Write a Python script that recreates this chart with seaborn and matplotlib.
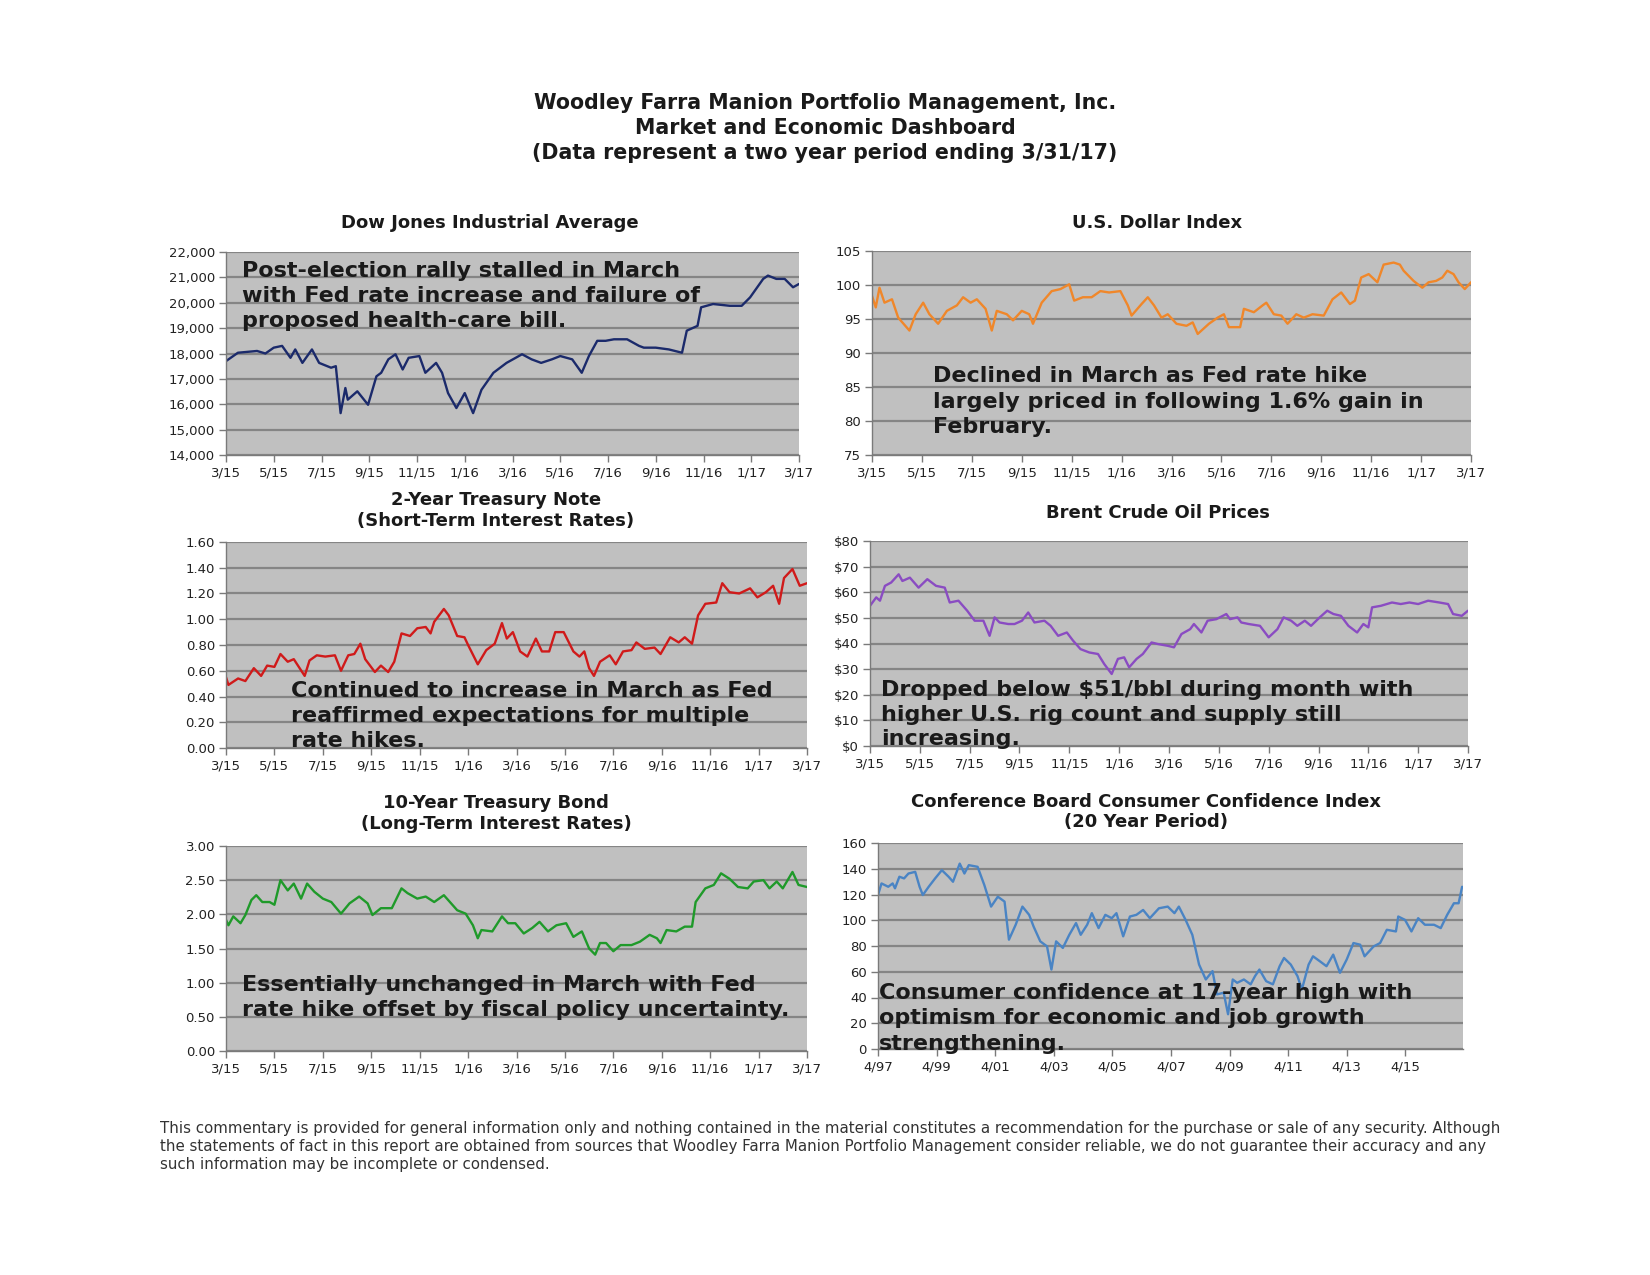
import matplotlib
matplotlib.use("Agg")
import matplotlib.pyplot as plt
import matplotlib.ticker as mticker
import numpy as np
import pandas as pd
import seaborn as sns

# ---------------- data ----------------
two_year_tick_labels = ["3/15", "5/15", "7/15", "9/15", "11/15", "1/16", "3/16",
                        "5/16", "7/16", "9/16", "11/16", "1/17", "3/17"]

# months after 3/31/15
dow_month = [0, 0.5, 1.3, 1.65, 2.0, 2.35, 2.7, 2.9, 3.2, 3.6, 3.9, 4.4, 4.6, 4.8, 5.0, 5.1,
             5.5, 5.95, 6.3, 6.5, 6.8, 7.1, 7.4, 7.65, 8.1, 8.35, 8.8, 9.05, 9.3, 9.65, 10.0,
             10.35, 10.7, 11.2, 11.75, 12.4, 12.8, 13.2, 13.65, 14.0, 14.5, 14.9, 15.2, 15.55,
             15.9, 16.25, 16.8, 17.3, 17.5, 18.0, 18.55, 19.1, 19.3, 19.75, 19.9, 20.4, 21.1,
             21.6, 21.95, 22.5, 22.7, 23.05, 23.4, 23.75, 24.0]
dow_value = [17700, 18030, 18100, 18000, 18230, 18300, 17830, 18160, 17630, 18160, 17630,
             17440, 17500, 15650, 16640, 16180, 16510, 15980, 17100, 17240, 17770, 17970,
             17370, 17830, 17900, 17240, 17630, 17240, 16440, 15850, 16440, 15650, 16570,
             17240, 17630, 17970, 17770, 17630, 17770, 17900, 17770, 17240, 17900, 18500,
             18500, 18560, 18560, 18300, 18230, 18230, 18160, 18030, 18900, 19090, 19820,
             19950, 19880, 19880, 20210, 20940, 21070, 20940, 20940, 20610, 20740]

usd_month = [0, 0.15, 0.3, 0.5, 0.8, 1.05, 1.5, 1.75, 2.05, 2.3,
             2.65, 3.0, 3.4, 3.65, 3.95, 4.2, 4.55, 4.8, 5.0, 5.4,
             5.65, 6.0, 6.3, 6.45, 6.8, 7.2, 7.55, 7.9, 8.1, 8.45,
             8.8, 9.15, 9.5, 9.95, 10.25, 10.4, 10.8, 11.05, 11.3, 11.6,
             11.85, 12.2, 12.6, 12.85, 13.05, 13.5, 13.85, 14.1, 14.3, 14.75,
             14.9, 15.3, 15.65, 15.8, 16.1, 16.4, 16.65, 17.0, 17.3, 17.65,
             18.1, 18.45, 18.8, 19.15, 19.35, 19.6, 19.9, 20.25, 20.5, 20.9,
             21.15, 21.3, 21.7, 22.05, 22.3, 22.6, 22.85, 23.05, 23.3, 23.5,
             23.75, 24.0]
usd_value = [98.4, 96.7, 99.6, 97.4, 97.9, 95.2, 93.3, 95.7, 97.4, 95.7,
             94.3, 96.2, 97.0, 98.2, 97.4, 97.9, 96.5, 93.3, 96.2, 95.7,
             94.8, 96.2, 95.7, 94.3, 97.4, 99.1, 99.4, 100.1, 97.7, 98.2,
             98.2, 99.1, 98.9, 99.1, 97.0, 95.5, 97.2, 98.2, 97.0, 95.2,
             95.7, 94.3, 94.0, 94.5, 92.8, 94.3, 95.2, 95.7, 93.8, 93.8,
             96.5, 96.0, 97.0, 97.4, 95.7, 95.5, 94.3, 95.7, 95.2, 95.7,
             95.5, 97.9, 98.9, 97.2, 97.7, 101.1, 101.6, 100.4, 103.0, 103.3,
             103.0, 102.1, 100.6, 99.6, 100.4, 100.6, 101.1, 102.1, 101.6, 100.4,
             99.4, 100.4]

t2_month = [0, 0.1, 0.5, 0.8, 1.15, 1.45, 1.7, 2.0, 2.25, 2.55,
            2.8, 3.25, 3.45, 3.75, 4.1, 4.5, 4.75, 5.05, 5.3, 5.55,
            5.75, 6.15, 6.4, 6.7, 6.95, 7.25, 7.6, 7.9, 8.25, 8.45,
            8.6, 9.0, 9.2, 9.55, 9.85, 10.0, 10.4, 10.75, 11.1, 11.4,
            11.6, 11.85, 12.15, 12.45, 12.8, 13.05, 13.35, 13.6, 13.95, 14.35,
            14.6, 14.8, 15.0, 15.2, 15.45, 15.85, 16.1, 16.4, 16.75, 16.95,
            17.3, 17.7, 17.95, 18.35, 18.7, 18.95, 19.25, 19.5, 19.8, 20.25,
            20.5, 20.8, 21.2, 21.65, 21.95, 22.3, 22.6, 22.85, 23.05, 23.4,
            23.7, 24.0]
t2_value = [0.55, 0.49, 0.54, 0.52, 0.62, 0.56, 0.64, 0.63, 0.73, 0.67,
            0.69, 0.56, 0.68, 0.72, 0.71, 0.72, 0.60, 0.72, 0.73, 0.81,
            0.69, 0.59, 0.64, 0.59, 0.67, 0.89, 0.87, 0.93, 0.94, 0.89,
            0.98, 1.08, 1.03, 0.87, 0.86, 0.80, 0.65, 0.76, 0.81, 0.97,
            0.85, 0.90, 0.75, 0.71, 0.85, 0.75, 0.75, 0.90, 0.90, 0.75,
            0.71, 0.75, 0.62, 0.56, 0.67, 0.72, 0.65, 0.75, 0.76, 0.82,
            0.77, 0.78, 0.73, 0.86, 0.82, 0.86, 0.81, 1.03, 1.12, 1.13,
            1.28, 1.21, 1.20, 1.24, 1.17, 1.21, 1.26, 1.12, 1.32, 1.39,
            1.26, 1.28]

brent_month = [0, 0.25, 0.4, 0.6, 0.85, 1.15, 1.3, 1.6, 1.95, 2.3,
               2.65, 3.0, 3.2, 3.55, 3.9, 4.2, 4.55, 4.8, 5.0, 5.2,
               5.55, 5.8, 6.1, 6.35, 6.6, 7.0, 7.25, 7.55, 7.9, 8.15,
               8.45, 8.8, 9.15, 9.4, 9.7, 9.95, 10.2, 10.4, 10.7, 10.95,
               11.3, 11.55, 11.95, 12.2, 12.5, 12.85, 13.0, 13.3, 13.55, 13.9,
               14.3, 14.45, 14.75, 14.9, 15.2, 15.65, 16.0, 16.35, 16.6, 16.9,
               17.15, 17.45, 17.7, 18.05, 18.35, 18.6, 18.9, 19.2, 19.55, 19.8,
               20.0, 20.15, 20.5, 20.95, 21.3, 21.65, 22.0, 22.4, 22.85, 23.2,
               23.4, 23.75, 24.0]
brent_value = [54.7, 58.0, 56.7, 62.5, 63.8, 67.0, 64.4, 65.7, 61.8, 65.1,
               62.5, 61.8, 56.0, 56.7, 52.8, 48.9, 48.9, 43.0, 50.2, 48.2,
               47.6, 47.6, 48.9, 52.1, 48.2, 48.9, 46.9, 43.0, 44.3, 41.1,
               37.8, 36.5, 35.9, 32.0, 28.1, 34.0, 34.6, 30.7, 34.0, 35.9,
               40.4, 39.8, 39.1, 38.5, 43.7, 45.6, 47.6, 44.3, 48.9, 49.5,
               51.5, 49.5, 50.2, 48.2, 47.6, 46.9, 42.4, 45.6, 50.2, 48.9,
               46.9, 48.9, 46.9, 50.2, 52.8, 51.5, 50.8, 46.9, 44.3, 47.6,
               46.3, 54.1, 54.7, 56.0, 55.4, 56.0, 55.4, 56.7, 56.0, 55.4,
               51.5, 50.8, 52.8]

t10_month = [0, 0.1, 0.3, 0.6, 0.8, 1.05, 1.25, 1.5, 1.8, 2.0,
             2.25, 2.55, 2.8, 3.1, 3.35, 3.65, 4.0, 4.35, 4.75, 5.1,
             5.5, 5.85, 6.05, 6.4, 6.85, 7.25, 7.5, 7.9, 8.25, 8.6,
             9.0, 9.25, 9.55, 9.9, 10.2, 10.4, 10.55, 11.0, 11.4, 11.65,
             11.95, 12.3, 12.65, 12.95, 13.3, 13.65, 14.05, 14.35, 14.7, 15.0,
             15.25, 15.45, 15.7, 16.0, 16.3, 16.75, 17.1, 17.5, 17.8, 17.95,
             18.2, 18.6, 18.95, 19.25, 19.4, 19.8, 20.15, 20.45, 20.8, 21.15,
             21.55, 21.8, 22.2, 22.45, 22.75, 23.0, 23.4, 23.65, 24.0]
t10_value = [1.92, 1.84, 1.97, 1.87, 1.99, 2.21, 2.28, 2.18, 2.18, 2.14,
             2.50, 2.35, 2.45, 2.23, 2.45, 2.33, 2.23, 2.18, 2.01, 2.16,
             2.26, 2.16, 1.99, 2.09, 2.09, 2.38, 2.31, 2.23, 2.26, 2.18,
             2.28, 2.18, 2.06, 2.01, 1.84, 1.65, 1.77, 1.75, 1.97, 1.87,
             1.87, 1.72, 1.80, 1.89, 1.75, 1.84, 1.87, 1.67, 1.75, 1.50,
             1.41, 1.58, 1.58, 1.46, 1.55, 1.55, 1.60, 1.70, 1.65, 1.58,
             1.77, 1.75, 1.82, 1.82, 2.18, 2.38, 2.43, 2.60, 2.52, 2.40,
             2.38, 2.48, 2.50, 2.38, 2.48, 2.38, 2.62, 2.43, 2.40]

cc_year = [1997.25, 1997.37, 1997.60, 1997.75, 1997.83, 1997.98, 1998.14, 1998.29, 1998.52, 1998.67,
           1998.78, 1998.98, 1999.20, 1999.43, 1999.66, 1999.81, 2000.04, 2000.20, 2000.35, 2000.65,
           2000.88, 2001.11, 2001.34, 2001.57, 2001.72, 2001.95, 2002.18, 2002.41, 2002.56, 2002.79,
           2003.02, 2003.17, 2003.33, 2003.56, 2003.78, 2004.01, 2004.17, 2004.39, 2004.55, 2004.78,
           2005.01, 2005.23, 2005.39, 2005.62, 2005.85, 2006.07, 2006.30, 2006.53, 2006.84, 2007.14,
           2007.37, 2007.52, 2007.75, 2007.98, 2008.21, 2008.44, 2008.67, 2008.82, 2009.05, 2009.20,
           2009.36, 2009.51, 2009.74, 2009.97, 2010.12, 2010.27, 2010.50, 2010.73, 2010.96, 2011.11,
           2011.34, 2011.57, 2011.72, 2011.95, 2012.10, 2012.33, 2012.56, 2012.79, 2013.02, 2013.25,
           2013.48, 2013.71, 2013.86, 2014.17, 2014.39, 2014.62, 2014.93, 2015.01, 2015.24, 2015.46,
           2015.69, 2015.92, 2016.23, 2016.46, 2016.68, 2016.91, 2017.07, 2017.19]
cc_value = [119.6, 128.6, 126.0, 128.6, 124.8, 133.8, 132.5, 136.3, 137.6, 126.0,
            119.6, 126.0, 132.5, 138.9, 133.8, 129.9, 144.0, 136.3, 142.8, 141.5,
            127.3, 110.6, 118.3, 114.5, 84.9, 96.5, 110.6, 104.2, 95.2, 83.6,
            79.7, 61.7, 83.6, 78.5, 88.7, 97.8, 88.7, 96.5, 105.5, 93.9,
            104.2, 101.6, 105.5, 87.5, 102.9, 104.2, 108.0, 101.6, 109.3, 110.6,
            105.5, 110.6, 100.3, 88.7, 65.6, 54.0, 60.5, 42.4, 43.7, 27.0,
            54.0, 51.4, 54.0, 50.2, 56.6, 61.7, 52.7, 50.2, 64.3, 70.7,
            65.6, 56.6, 46.3, 65.6, 72.0, 68.2, 64.3, 73.3, 59.2, 69.5,
            82.3, 81.0, 72.0, 79.7, 82.3, 92.6, 91.3, 102.9, 100.3, 91.3,
            101.6, 96.5, 96.5, 93.9, 104.2, 113.2, 113.2, 126.0]
cc_tick_years = [1997.25, 1999.25, 2001.25, 2003.25, 2005.25, 2007.25, 2009.25, 2011.25, 2013.25, 2015.25]
cc_tick_labels = ["4/97", "4/99", "4/01", "4/03", "4/05", "4/07", "4/09", "4/11", "4/13", "4/15"]

main_title = ["Woodley Farra Manion Portfolio Management, Inc.",
              "Market and Economic Dashboard",
              "(Data represent a two year period ending 3/31/17)"]
footer = ["This commentary is provided for general information only and nothing contained in the material constitutes a recommendation for the purchase or sale of any security. Although",
          "the statements of fact in this report are obtained from sources that Woodley Farra Manion Portfolio Management consider reliable, we do not guarantee their accuracy and any",
          "such information may be incomplete or condensed."]

# ---------------- style ----------------
sns.set_theme(style="white")
plt.rcParams['font.family'] = ['DejaVu Sans']

W, H = 1650, 1275
fig = plt.figure(figsize=(W / 100, H / 100), dpi=100)
fig.patch.set_facecolor("white")

TXT = "#1a1a1a"


def ftext(x, y, s, **kw):
    return fig.text(x / W, 1 - y / H, s, **kw)


def make_axes(l, r, t, b):
    ax = fig.add_axes([l / W, 1 - b / H, (r - l) / W, (b - t) / H])
    ax.set_facecolor("#C0C0C0")
    for s in ["top", "right"]:
        ax.spines[s].set_visible(False)
    for s in ["left", "bottom"]:
        ax.spines[s].set_color("#7a7a7a")
        ax.spines[s].set_linewidth(1.0)
    ax.yaxis.grid(True, color="#858585", linewidth=1.6)
    ax.xaxis.grid(False)
    ax.set_axisbelow(True)
    ax.tick_params(axis="both", direction="out", length=5, width=1, color="#7a7a7a",
                   labelsize=9.5, labelcolor="#222222", pad=3, left=True, bottom=True)
    return ax


def draw_series(ax, x, y, color, xlim, ylim, yticks, fmt):
    df = pd.DataFrame({"x": x, "y": y})
    sns.lineplot(data=df, x="x", y="y", ax=ax, color=color, linewidth=1.7, legend=False)
    ax.set_xlim(*xlim)
    ax.set_ylim(*ylim)
    ax.set_yticks(yticks)
    ax.yaxis.set_major_formatter(mticker.FuncFormatter(fmt))
    ax.set_xlabel("")
    ax.set_ylabel("")


def two_year_x(ax):
    ax.set_xticks(np.arange(0, 25, 2))
    ax.set_xticklabels(two_year_tick_labels)


ANN = dict(fontsize=16, fontweight="bold", color=TXT, ha="left", va="center")
TTL = dict(fontsize=13, fontweight="bold", color=TXT, ha="center", va="center")

# main title
for yy, s in zip([103, 128, 153], main_title):
    ftext(825, yy, s, fontsize=14.8, fontweight="bold", color=TXT, ha="center", va="center")

# Dow Jones
ax = make_axes(226, 799, 252, 455)
draw_series(ax, dow_month, dow_value, "#1B2A6B", (0, 24), (14000, 22000),
            np.arange(14000, 22001, 1000), lambda v, p: f"{v:,.0f}")
two_year_x(ax)
ftext(490, 223, "Dow Jones Industrial Average", **TTL)
for yy, s in zip([271, 296, 321], ["Post-election rally stalled in March",
                                   "with Fed rate increase and failure of",
                                   "proposed health-care bill."]):
    ftext(242, yy, s, **ANN)

# US Dollar
ax = make_axes(872, 1471, 251, 455)
draw_series(ax, usd_month, usd_value, "#F0872A", (0, 24), (75, 105),
            np.arange(75, 106, 5), lambda v, p: f"{v:.0f}")
two_year_x(ax)
ftext(1157, 223, "U.S. Dollar Index", **TTL)
for yy, s in zip([376, 402, 427], ["Declined in March as Fed rate hike",
                                   "largely priced in following 1.6% gain in",
                                   "February."]):
    ftext(933, yy, s, **ANN)

# 2-year treasury
ax = make_axes(226, 807, 542, 748)
draw_series(ax, t2_month, t2_value, "#D01A1A", (0, 24), (0, 1.6),
            np.arange(0, 1.61, 0.2), lambda v, p: f"{v:.2f}")
two_year_x(ax)
ftext(496, 500, "2-Year Treasury Note", **TTL)
ftext(496, 521, "(Short-Term Interest Rates)", **TTL)
for yy, s in zip([691, 716, 741], ["Continued to increase in March as Fed",
                                   "reaffirmed expectations for multiple",
                                   "rate hikes."]):
    ftext(291, yy, s, **ANN)

# Brent crude
ax = make_axes(870, 1468, 541, 746)
draw_series(ax, brent_month, brent_value, "#8A4CC2", (0, 24), (0, 80),
            np.arange(0, 81, 10), lambda v, p: f"${v:.0f}")
two_year_x(ax)
ftext(1158, 513, "Brent Crude Oil Prices", **TTL)
for yy, s in zip([690, 715, 739], ["Dropped below $51/bbl during month with",
                                   "higher U.S. rig count and supply still",
                                   "increasing."]):
    ftext(881, yy, s, **ANN)

# 10-year treasury
ax = make_axes(226, 807, 846, 1051)
draw_series(ax, t10_month, t10_value, "#1F9A2A", (0, 24), (0, 3.0),
            np.arange(0, 3.01, 0.5), lambda v, p: f"{v:.2f}")
two_year_x(ax)
ftext(496, 803, "10-Year Treasury Bond", **TTL)
ftext(496, 824, "(Long-Term Interest Rates)", **TTL)
for yy, s in zip([985, 1010], ["Essentially unchanged in March with Fed",
                               "rate hike offset by fiscal policy uncertainty."]):
    ftext(242, yy, s, **ANN)

# Consumer confidence
ax = make_axes(878, 1463, 843, 1049)
draw_series(ax, cc_year, cc_value, "#4A84C4", (1997.25, 2017.22), (0, 160),
            np.arange(0, 161, 20), lambda v, p: f"{v:.0f}")
ax.set_xticks(cc_tick_years)
ax.set_xticklabels(cc_tick_labels)
ftext(1146, 802, "Conference Board Consumer Confidence Index", **TTL)
ftext(1146, 822, "(20 Year Period)", **TTL)
for yy, s in zip([993, 1018, 1044], ["Consumer confidence at 17-year high with",
                                     "optimism for economic and job growth",
                                     "strengthening."]):
    ftext(879, yy, s, **ANN)

# footer
for yy, s in zip([1129, 1147, 1165], footer):
    ftext(160, yy, s, fontsize=10.8, family=["DejaVu Sans"],
          color="#333333", ha="left", va="center")

fig.savefig("out.png", dpi=100)
